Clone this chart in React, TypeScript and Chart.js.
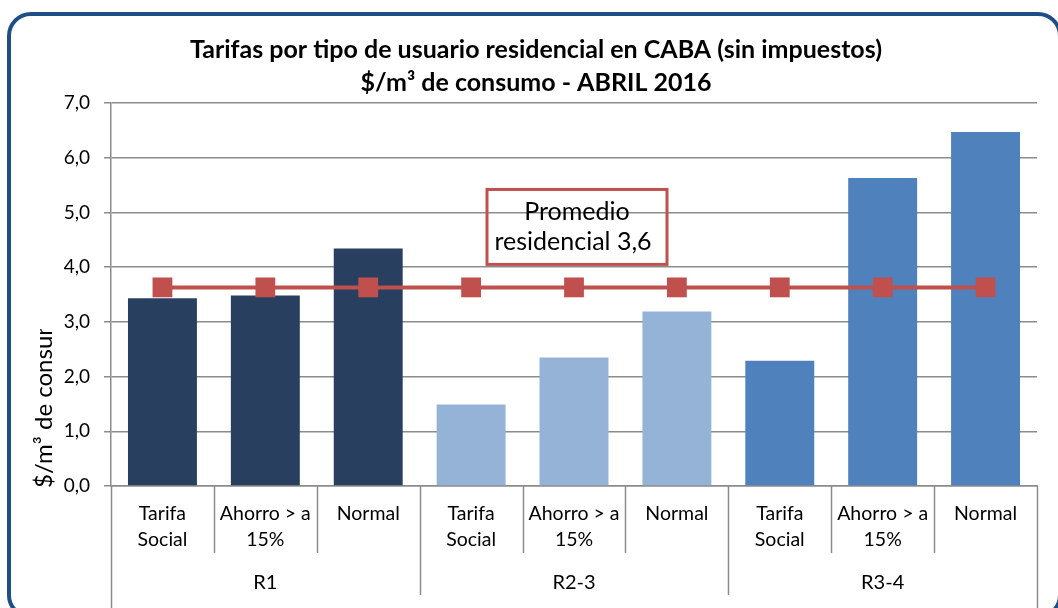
import React, { useEffect, useRef } from "react";
import { Chart, registerables } from "chart.js";

Chart.register(...registerables);

// ---- data ----
const categories: string[][] = [
  ["Tarifa", "Social"], ["Ahorro > a", "15%"], ["Normal"],
  ["Tarifa", "Social"], ["Ahorro > a", "15%"], ["Normal"],
  ["Tarifa", "Social"], ["Ahorro > a", "15%"], ["Normal"],
];
const groups = ["R1", "R2-3", "R3-4"];
const tarifas = [3.43, 3.48, 4.34, 1.49, 2.35, 3.19, 2.29, 5.63, 6.47];
const promedio = [3.63, 3.63, 3.63, 3.63, 3.63, 3.63, 3.63, 3.63, 3.63];
const groupColors = ["#283F5F", "#95B3D7", "#4F81BD"];
const titleLines = [
  "Tarifas por tipo de usuario residencial en CABA (sin impuestos)",
  "$/m³ de consumo - ABRIL 2016",
];
const yTitle = "$/m³ de consumo";
const noteLines = ["Promedio", "residencial 3,6"];
const yMin = 0;
const yMax = 7;

const FONT = "Lato, 'Open Sans', sans-serif";
const GRID = "#8c8c8c";
const RED = "#C0504D";

export default function App() {
  const canvasRef = useRef<HTMLCanvasElement | null>(null);

  useEffect(() => {
    const canvas = canvasRef.current;
    if (!canvas) return;
    const perGroup = categories.length / groups.length;

    const separators = {
      id: "separators",
      afterDraw(chart: any) {
        const ctx = chart.ctx;
        const xs = chart.scales.x;
        const x2 = chart.scales.x2;
        const n = categories.length;
        const w = (xs.right - xs.left) / n;
        ctx.save();
        ctx.strokeStyle = GRID;
        ctx.lineWidth = 1.5;
        for (let k = 0; k <= n; k++) {
          const px = Math.round(xs.left + k * w) + 0.5;
          let bottom = xs.bottom;
          if (k === 0 || k === n) bottom = chart.height;
          else if (k % perGroup === 0) bottom = x2.bottom - 13;
          ctx.beginPath();
          ctx.moveTo(px, xs.top);
          ctx.lineTo(px, bottom);
          ctx.stroke();
        }
        ctx.restore();
      },
    };

    const note = {
      id: "note",
      afterDraw(chart: any) {
        const ctx = chart.ctx;
        const xs = chart.scales.x;
        const ys = chart.scales.y;
        const cx = xs.getPixelForValue(4) + 3;
        const top = ys.getPixelForValue(5.42);
        const bottom = ys.getPixelForValue(4.05);
        const w = 180;
        ctx.save();
        ctx.strokeStyle = RED;
        ctx.lineWidth = 3;
        ctx.strokeRect(cx - w / 2, top, w, bottom - top);
        ctx.fillStyle = "#000";
        ctx.font = `25px ${FONT}`;
        ctx.textAlign = "center";
        ctx.textBaseline = "middle";
        const mid = (top + bottom) / 2;
        ctx.fillText(noteLines[0], cx, mid - 15);
        ctx.fillText(noteLines[1], cx - 4, mid + 15);
        ctx.restore();
      },
    };

    const chart = new Chart(canvas, {
      data: {
        labels: categories,
        datasets: [
          {
            type: "line",
            label: "Promedio",
            data: promedio,
            borderColor: RED,
            backgroundColor: RED,
            borderWidth: 4,
            pointStyle: "rect",
            pointRadius: 14,
            pointBorderWidth: 0,
            pointBackgroundColor: RED,
            order: 1,
          } as any,
          {
            type: "bar",
            label: "Tarifa",
            data: tarifas,
            backgroundColor: tarifas.map((_, i) => groupColors[Math.floor(i / perGroup)]),
            barPercentage: 0.67,
            categoryPercentage: 1,
            order: 2,
          } as any,
        ],
      },
      options: {
        animation: false,
        responsive: false,
        maintainAspectRatio: false,
        layout: { padding: { left: 35, right: 21, top: 0, bottom: 0 } },
        plugins: {
          legend: { display: false },
          tooltip: { enabled: false },
          title: {
            display: true,
            text: titleLines,
            color: "#000",
            font: { family: FONT, size: 25, weight: "bold", lineHeight: 33 / 25 },
            padding: { top: 33.5, bottom: 3.5 },
          },
        },
        scales: {
          x: {
            type: "category",
            offset: true,
            weight: 0,
            grid: { display: false },
            border: { display: true, color: GRID, width: 1.5 },
            ticks: {
              color: "#000",
              font: { family: FONT, size: 19.5, lineHeight: 26 / 19.5 },
              padding: 7,
              maxRotation: 0,
              autoSkip: false,
            },
            afterFit(scale: any) {
              scale.height = 67;
            },
          },
          x2: {
            type: "category",
            labels: groups,
            position: "bottom",
            offset: true,
            weight: 1,
            grid: { display: false },
            border: { display: false },
            ticks: {
              color: "#000",
              font: { family: FONT, size: 20, lineHeight: 22 / 20 },
              padding: 11,
              maxRotation: 0,
              autoSkip: false,
            },
            afterFit(scale: any) {
              scale.height = 55;
            },
          },
          y: {
            min: yMin,
            max: yMax,
            grid: { color: GRID, lineWidth: 1.5, tickLength: 7, drawTicks: true },
            border: { display: true, color: GRID, width: 1.5 },
            ticks: {
              stepSize: 1,
              color: "#000",
              font: { family: FONT, size: 19 },
              padding: 14,
              callback: (v: any) => Number(v).toFixed(1).replace(".", ","),
            },
            afterFit(scale: any) {
              scale.width = 76;
            },
          },
        },
      } as any,
      plugins: [separators, note],
    });

    return () => chart.destroy();
  }, []);

  return (
    <div
      style={{
        position: "fixed",
        left: 0,
        top: 0,
        width: 1058,
        height: 608,
        overflow: "hidden",
        background: "#fff",
      }}
    >
      <div
        style={{
          position: "absolute",
          left: 7,
          top: 12,
          width: 1055,
          height: 607,
          border: "4.5px solid #1F4E85",
          borderRadius: 24,
          boxSizing: "border-box",
        }}
      />
      <canvas
        ref={canvasRef}
        width={1058}
        height={608}
        style={{ position: "absolute", left: 0, top: 0, width: 1058, height: 608 }}
      />
      <div
        style={{
          position: "absolute",
          left: 29,
          top: 329,
          width: 27,
          height: 159,
          overflow: "hidden",
          writingMode: "vertical-rl",
          transform: "rotate(180deg)",
          whiteSpace: "nowrap",
          fontFamily: FONT,
          fontSize: 24,
          lineHeight: "27px",
          color: "#000",
        }}
      >
        {yTitle}
      </div>
    </div>
  );
}
